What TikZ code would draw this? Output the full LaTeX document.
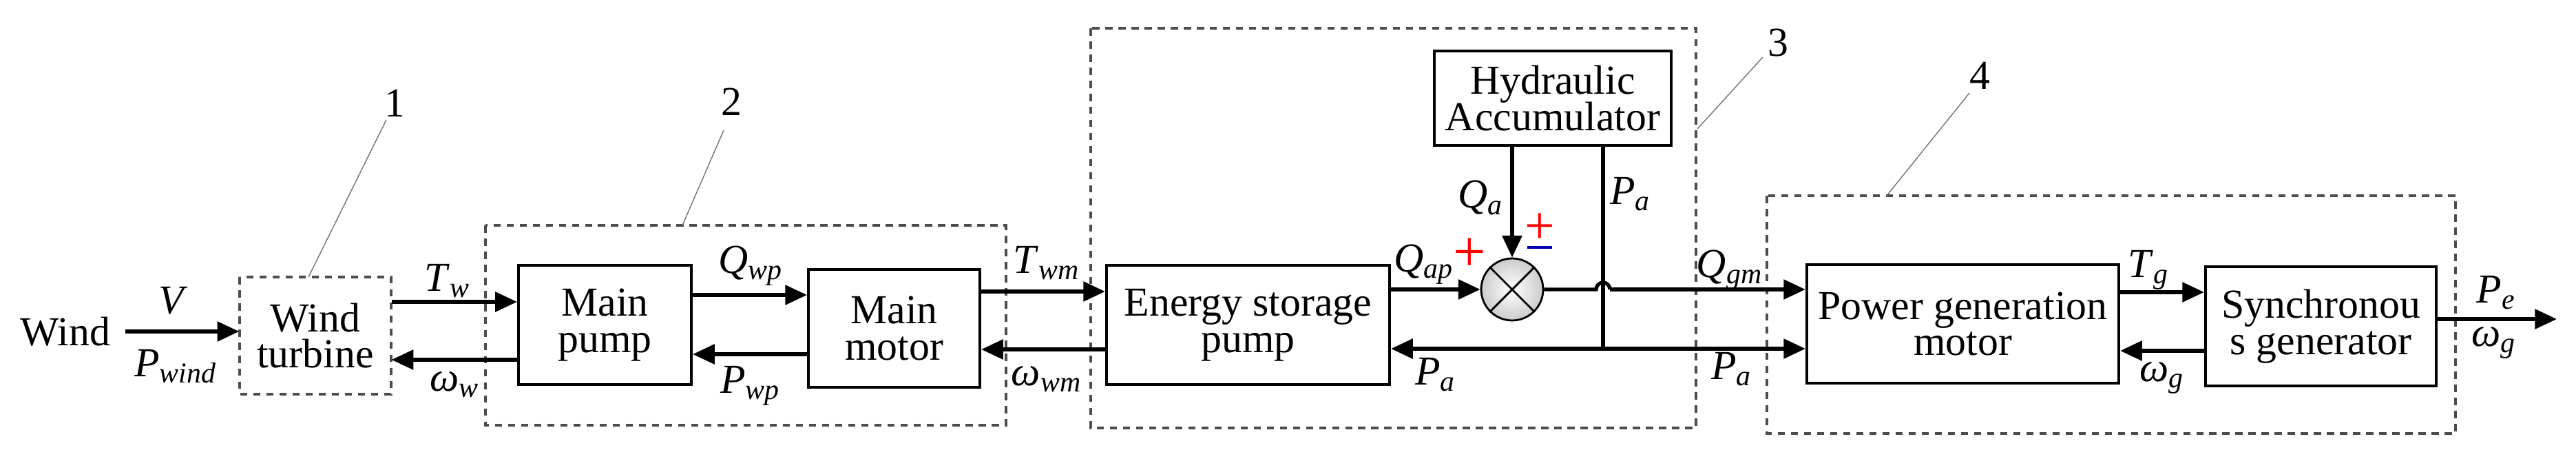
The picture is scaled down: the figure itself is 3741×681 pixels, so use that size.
\documentclass[tikz,border=0pt]{standalone}
\usepackage{fontspec}
\setmainfont{Liberation Serif}
\usetikzlibrary{arrows.meta}
\newcommand\vsym[2]{\textit{#1}\textsubscript{\textit{#2}}}
\begin{document}
\begin{tikzpicture}[x=0.01cm,y=-0.01cm,
  every node/.style={font=\fontsize{17}{18}\selectfont},
  blk/.style={draw,line width=1.2pt,align=center,inner sep=0pt},
  grp/.style={draw=black!70,line width=0.9pt,dash pattern=on 3pt off 2.4pt},
  arr/.style={line width=1.5pt,-{Triangle[length=9pt,width=8pt]}},
  lead/.style={draw=black!55,line width=0.4pt},
  lbl/.style={inner sep=1pt}]
\useasboundingbox (0,0) rectangle (3741,681);
% group boxes
\draw[grp] (348,402) rectangle (568,572);
\draw[grp] (705,327) rectangle (1461,617);
\draw[grp] (1584,41) rectangle (2463,621);
\draw[grp] (2566,284) rectangle (3566,629);
% blocks
\node[lbl] (wind) at (95,481) {Wind};
\node[align=center,inner sep=0pt,minimum width=220*0.01cm,minimum height=170*0.01cm] (wt) at (458,487) {Wind\\[-3pt]turbine};
\node[blk,minimum width=251*0.01cm,minimum height=173*0.01cm] (mp) at (878.5,471.5) {Main\\[-3pt]pump};
\node[blk,minimum width=249*0.01cm,minimum height=171*0.01cm] (mm) at (1298.5,476.5) {Main\\[-3pt]motor};
\node[blk,minimum width=411*0.01cm,minimum height=173*0.01cm] (esp) at (1812.5,471.5) {Energy storage\\[-3pt]pump};
\node[blk,minimum width=344*0.01cm,minimum height=137*0.01cm] (ha) at (2255,142.5) {Hydraulic\\[-3pt]Accumulator};
\node[draw,circle,line width=0.8pt,minimum size=90*0.01cm,inner sep=0pt,
  inner color=white,outer color=black!20] (sum) at (2196,420) {};
\draw[line width=0.8pt] (sum.north west) -- (sum.south east) (sum.north east) -- (sum.south west);
\node[blk,minimum width=453*0.01cm,minimum height=172*0.01cm] (pgm) at (2850.5,470) {Power generation\\[-3pt]motor};
\node[blk,minimum width=335*0.01cm,minimum height=173*0.01cm] (sg) at (3370.5,473.5) {Synchronou\\[-3pt]s generator};
\coordinate (out) at (3713,463);
\coordinate (windout) at (182,481);
% connectors
\draw[arr] (windout) -- (wt.west |- windout);
\node[lbl] at (252,436) {\textit{V}};
\node[lbl] at (255,532) {\vsym{P}{wind}};
\draw[arr] (wt.east |- 0,438) -- (mp.west |- 0,438);
\node[lbl] at (650,408) {\vsym{T}{w}};
\draw[arr] (mp.west |- 0,522) -- (wt.east |- 0,522);
\node[lbl] at (660,558) {\vsym{ω}{w}};
\draw[arr] (mp.east |- 0,428) -- (mm.west |- 0,428);
\node[lbl] at (1090,386) {\vsym{Q}{wp}};
\draw[arr] (mm.west |- 0,514) -- (mp.east |- 0,514);
\node[lbl] at (1090,560) {\vsym{P}{wp}};
\draw[arr] (mm.east |- 0,423) -- (esp.west |- 0,423);
\node[lbl] at (1520,382) {\vsym{T}{wm}};
\draw[arr] (esp.west |- 0,507) -- (mm.east |- 0,507);
\node[lbl] at (1520,550) {\vsym{ω}{wm}};
\draw[arr] (esp.east |- 0,420) -- (sum.west);
\node[lbl] at (2068,384) {\vsym{Q}{ap}};
\node[text=red,font=\fontsize{24}{24}\selectfont] at (2134,370) {+};
\draw[arr] (ha.south -| sum.north) -- (sum.north);
\node[lbl] at (2150,287) {\vsym{Q}{a}};
\node[text=red,font=\fontsize{22}{22}\selectfont] at (2236,332) {+};
\draw[blue!70!black,line width=1pt] (2218,359) -- (2254,359);
\coordinate (hopl) at (2318,420);
\coordinate (hopr) at (2338,420);
\draw[line width=1.5pt] (sum.east) -- (hopl) arc (180:360:10);
\draw[arr] (hopr) -- (pgm.west |- hopr);
\node[lbl] at (2512,392) {\vsym{Q}{gm}};
\coordinate (junc) at (2328,506);
\draw[line width=1.5pt] (ha.south -| junc) -- (junc);
\node[lbl] at (2368,282) {\vsym{P}{a}};
\draw[arr] (junc) -- (esp.east |- junc);
\node[lbl] at (2085,544) {\vsym{P}{a}};
\draw[arr] (junc) -- (pgm.west |- junc);
\node[lbl] at (2515,536) {\vsym{P}{a}};
\draw[arr] (pgm.east |- 0,424) -- (sg.west |- 0,424);
\node[lbl] at (3120,392) {\vsym{T}{g}};
\draw[arr] (sg.west |- 0,509) -- (pgm.east |- 0,509);
\node[lbl] at (3140,548) {\vsym{ω}{g}};
\draw[arr] (sg.east |- out) -- (out);
\node[lbl] at (3625,425) {\vsym{P}{e}};
\node[lbl] at (3622,497) {\vsym{ω}{g}};
% group labels
\node[lbl] (g1) at (573,150) {1};
\draw[lead] (561,174) -- (448,402);
\node[lbl] (g2) at (1062,148) {2};
\draw[lead] (1051,189) -- (991,327);
\node[lbl] (g3) at (2582,62) {3};
\draw[lead] (2560,83) -- (2465,187);
\node[lbl] (g4) at (2875,110) {4};
\draw[lead] (2860,135) -- (2740,284);
\end{tikzpicture}
\end{document}
